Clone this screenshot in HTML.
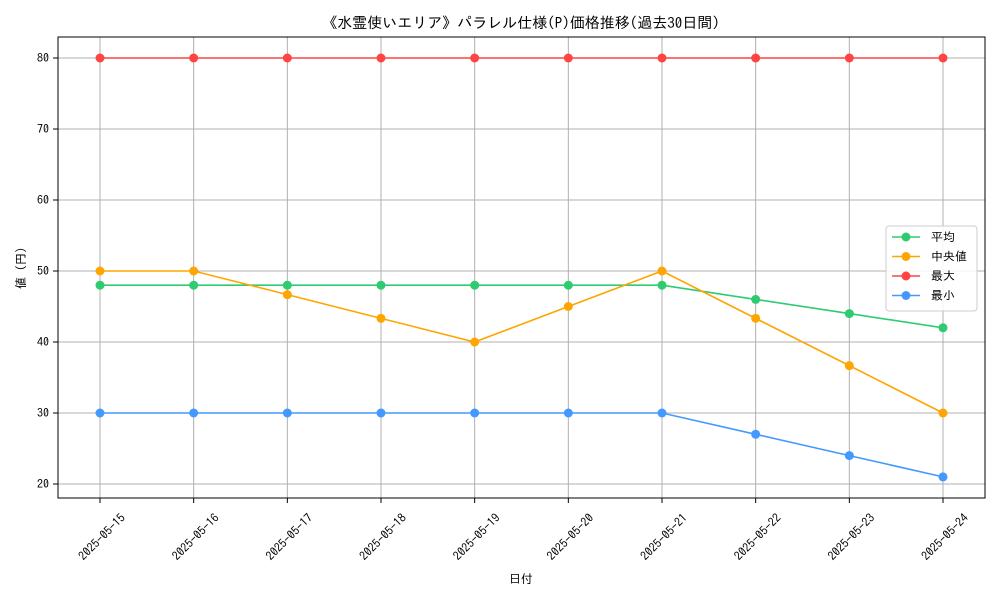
<!DOCTYPE html>
<html><head><meta charset="utf-8"><style>
body{margin:0;background:#fff;font-family:"Liberation Sans","IPAGothic","Noto Sans CJK JP",sans-serif;}
</style></head><body>
<svg id="chart" width="1000" height="600" xmlns="http://www.w3.org/2000/svg" font-family="IPAGothic, 'Noto Sans CJK JP', sans-serif">
<rect width="1000" height="600" fill="#fff"/>
<text x="521" y="28" text-anchor="middle" font-size="15">《水霊使いエリア》パラレル仕様(P)価格推移(過去30日間)</text>
<g id="grid"></g>
<rect x="58" y="37" width="927" height="461" fill="none" stroke="#000" stroke-width="1"/>
<g id="axes"></g>
<g id="series"></g>
<text x="521" y="583" text-anchor="middle" font-size="12">日付</text>
<text transform="translate(25,268) rotate(-90)" text-anchor="middle" font-size="12">値 (円)</text>
<g id="legend"></g>
</svg>
<script>
const categories=["2025-05-15","2025-05-16","2025-05-17","2025-05-18","2025-05-19","2025-05-20","2025-05-21","2025-05-22","2025-05-23","2025-05-24"];
const avgValues=[48,48,48,48,48,48,48,46,44,42];
const medianValues=[50,50,46.67,43.33,40,45,50,43.33,36.67,30];
const maxValues=[80,80,80,80,80,80,80,80,80,80];
const minValues=[30,30,30,30,30,30,30,27,24,21];
const yTicks=[20,30,40,50,60,70,80];
const seriesNames=["平均","中央値","最大","最小"];
const NS="http://www.w3.org/2000/svg";
function xs(i){return 100+i*(943-100)/(categories.length-1);}
function ys(v){return 484-(v-20)*(484-58)/60;}
function mk(tag,attrs,parent){const e=document.createElementNS(NS,tag);for(const k in attrs)e.setAttribute(k,attrs[k]);parent.appendChild(e);return e;}
const grid=document.getElementById('grid'),axes=document.getElementById('axes'),ser=document.getElementById('series'),leg=document.getElementById('legend');
categories.forEach((c,i)=>{
 const g=mk('line',{x1:xs(i),x2:xs(i),y1:37,y2:498,stroke:'#b0b0b0','stroke-width':1},grid);
 
 
 const t=mk('line',{x1:xs(i),x2:xs(i),y1:498,y2:503,stroke:'#000'},axes);
 
 
 const cx=xs(i)+2, cy=537;
 const l=mk('text',{x:cx,y:cy+4,'text-anchor':'middle','font-size':12,transform:`rotate(-45 ${cx} ${cy})`},axes);
 l.textContent=c;
 
 
});
yTicks.forEach(v=>{
 const g=mk('line',{x1:58,x2:985,y1:ys(v),y2:ys(v),stroke:'#b0b0b0','stroke-width':1},grid);
 
 
 const t=mk('line',{x1:53,x2:58,y1:ys(v),y2:ys(v),stroke:'#000'},axes);
 
 
 const l=mk('text',{x:49,y:ys(v)+4,'text-anchor':'end','font-size':12},axes);
 l.textContent=v;
 
 
});
const allSeries=[avgValues,medianValues,maxValues,minValues];
const colors=["#2ecc71","#ffa500","#ff4444","#4499ff"];
const keys=["average","median","max","min"];
allSeries.forEach((vals,s)=>{
 const p=mk('polyline',{points:vals.map((v,i)=>xs(i)+','+ys(v)).join(' '),fill:'none',stroke:colors[s],'stroke-width':1.6},ser);
 
 
 vals.forEach((v,i)=>{
  const c=mk('circle',{cx:xs(i),cy:ys(v),r:4.5,fill:colors[s]},ser);
  
  
 });
});
const lb=mk('rect',{x:886,y:226,width:91,height:85,fill:'#fff','fill-opacity':0.85,stroke:'#ccc',rx:3},leg);


seriesNames.forEach((n,s)=>{
 const y=237+s*19.5;
 const g=mk('g',{},leg);
 
 
 mk('line',{x1:892,x2:920,y1:y,y2:y,stroke:colors[s],'stroke-width':1.6},g);
 mk('circle',{cx:906,cy:y,r:4.5,fill:colors[s]},g);
 const t=mk('text',{x:931,y:y+4,'font-size':12},g);
 t.textContent=n;
});
</script>
</body></html>
